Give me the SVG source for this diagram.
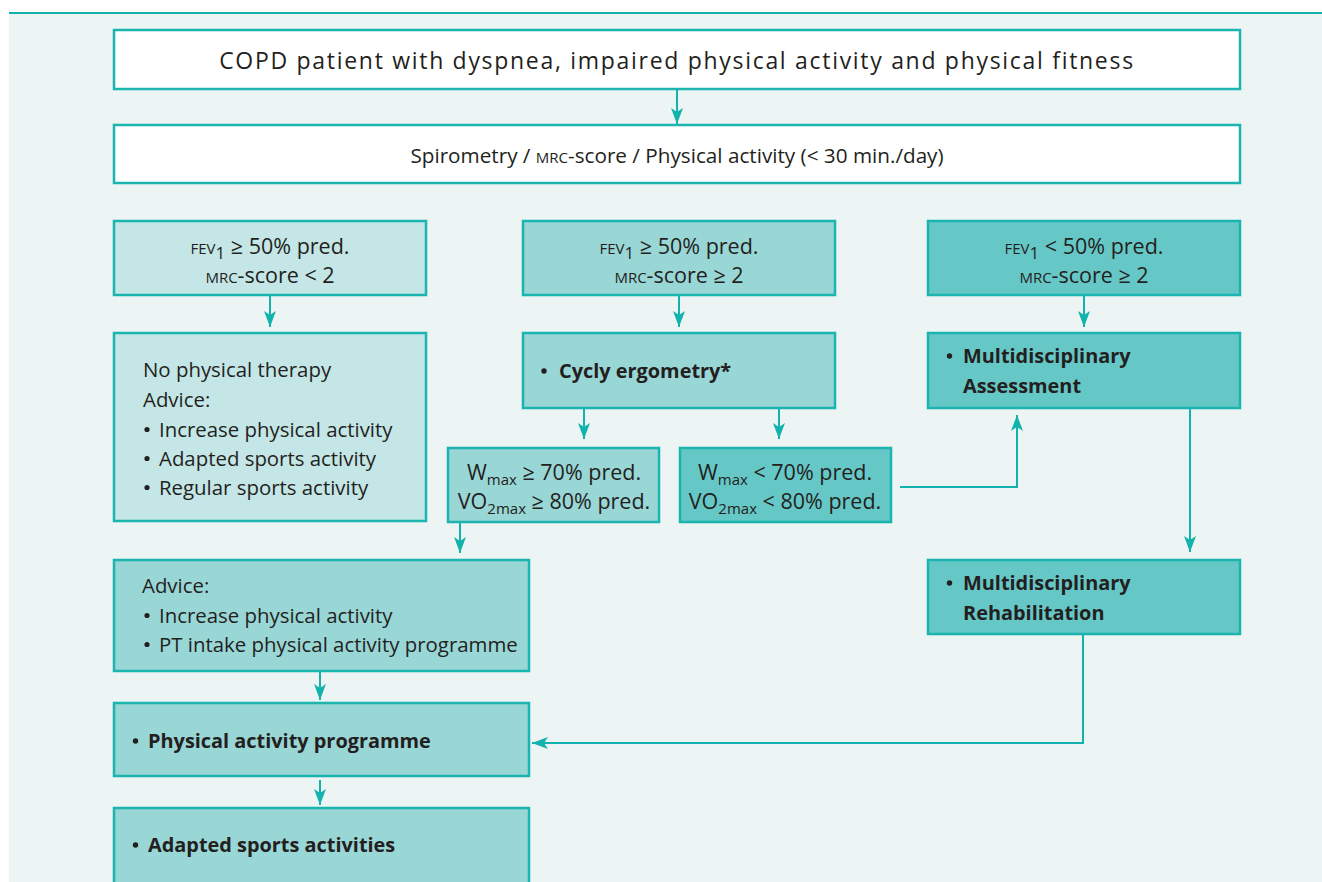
<svg xmlns="http://www.w3.org/2000/svg" width="1322" height="882" viewBox="0 0 1322 882">
<defs>
<marker id="ah" viewBox="0 0 16 12" markerWidth="16" markerHeight="12" refX="16" refY="6" orient="auto" markerUnits="userSpaceOnUse">
<path d="M0,0 L16,6 L0,12 L4,6 Z" fill="#12B2AD"/>
</marker>
<style>
.box{stroke:#1BB5B0;stroke-width:2.5}
.w{fill:#FFFFFF}
.l1{fill:#C4E6E6}
.l2{fill:#99D6D6}
.l3{fill:#66C7C7}
text{font-family:"Open Sans","DejaVu Sans",sans-serif;fill:#231F20}
.t{font-size:20.4px}
.r{font-size:21.5px}
.b{font-size:19.9px;font-weight:bold}
.sc{font-size:15px}
.c{text-anchor:middle}
.dot{fill:#231F20}
.ln{fill:none;stroke:#12B2AD;stroke-width:2}
</style>
</defs>
<rect x="0" y="0" width="1322" height="882" fill="#FFFFFF"/>
<rect x="9" y="13" width="1313" height="869" fill="#ECF5F4"/>
<line x1="9" y1="13" x2="1322" y2="13" stroke="#12B2AD" stroke-width="2"/>

<g id="connectors">
<line class="ln" x1="677" y1="90" x2="677" y2="124" marker-end="url(#ah)"/>
<line class="ln" x1="270" y1="296" x2="270" y2="327" marker-end="url(#ah)"/>
<line class="ln" x1="679" y1="296" x2="679" y2="327" marker-end="url(#ah)"/>
<line class="ln" x1="1084" y1="296" x2="1084" y2="327" marker-end="url(#ah)"/>
<line class="ln" x1="584" y1="409" x2="584" y2="439" marker-end="url(#ah)"/>
<line class="ln" x1="779" y1="409" x2="779" y2="439" marker-end="url(#ah)"/>
<polyline class="ln" points="900,487 1017,487 1017,415" marker-end="url(#ah)"/>
<line class="ln" x1="1190" y1="409" x2="1190" y2="552" marker-end="url(#ah)"/>
<line class="ln" x1="460" y1="523" x2="460" y2="553" marker-end="url(#ah)"/>
<line class="ln" x1="320" y1="672" x2="320" y2="700" marker-end="url(#ah)"/>
<line class="ln" x1="320" y1="780" x2="320" y2="805" marker-end="url(#ah)"/>
<polyline class="ln" points="1083,635 1083,743 532,743" marker-end="url(#ah)"/>
</g>

<g id="n-copd">
<rect class="box w" x="114" y="30" width="1126" height="59"/>
<text class="c" x="677" y="69" style="font-size:23px;letter-spacing:1.7px">COPD patient with dyspnea, impaired physical activity and physical fitness</text>
</g>
<g id="n-spiro">
<rect class="box w" x="114" y="125" width="1126" height="58"/>
<text class="c" x="677" y="163" style="font-size:20.7px">Spirometry / <tspan style="font-size:15px">MRC</tspan>-score / Physical activity (&lt; 30 min./day)</text>
</g>

<g id="n-a">
<rect class="box l1" x="114" y="221" width="312" height="74"/>
<text class="c r" x="270" y="254"><tspan class="sc">FEV</tspan><tspan style="font-size:17px" dy="5">1</tspan><tspan dy="-5"> ≥ 50% pred.</tspan></text>
<text class="c r" x="270" y="283"><tspan class="sc">MRC</tspan>-score &lt; 2</text>
</g>
<g id="n-b">
<rect class="box l2" x="523" y="221" width="312" height="74"/>
<text class="c r" x="679" y="254"><tspan class="sc">FEV</tspan><tspan style="font-size:17px" dy="5">1</tspan><tspan dy="-5"> ≥ 50% pred.</tspan></text>
<text class="c r" x="679" y="283"><tspan class="sc">MRC</tspan>-score ≥ 2</text>
</g>
<g id="n-c">
<rect class="box l3" x="928" y="221" width="312" height="74"/>
<text class="c r" x="1084" y="254"><tspan class="sc">FEV</tspan><tspan style="font-size:17px" dy="5">1</tspan><tspan dy="-5"> &lt; 50% pred.</tspan></text>
<text class="c r" x="1084" y="283"><tspan class="sc">MRC</tspan>-score ≥ 2</text>
</g>

<g id="n-nopt">
<rect class="box l1" x="114" y="333" width="312" height="188"/>
<text class="t" x="143" y="377">No physical therapy</text>
<text class="t" x="143" y="407">Advice:</text>
<circle class="dot" cx="147" cy="429.5" r="2.6"/><text class="t" x="159" y="437">Increase physical activity</text>
<circle class="dot" cx="147" cy="458.5" r="2.6"/><text class="t" x="159" y="466">Adapted sports activity</text>
<circle class="dot" cx="147" cy="487.5" r="2.6"/><text class="t" x="159" y="495">Regular sports activity</text>
</g>
<g id="n-cycle">
<rect class="box l2" x="523" y="333" width="312" height="75"/>
<circle class="dot" cx="544" cy="371" r="2.7"/><text class="b" x="559" y="378">Cycly ergometry*</text>
</g>
<g id="n-assess">
<rect class="box l3" x="928" y="333" width="312" height="75"/>
<circle class="dot" cx="949.5" cy="356" r="2.7"/><text class="b" x="963" y="363">Multidisciplinary</text>
<text class="b" x="963" y="393">Assessment</text>
</g>

<g id="n-w1">
<rect class="box l2" x="448" y="448" width="211" height="74"/>
<text class="c r" x="554" y="480">W<tspan class="sc" dy="5">max</tspan><tspan dy="-5"> ≥ 70% pred.</tspan></text>
<text class="c r" x="554" y="509">VO<tspan class="sc" dy="5">2max</tspan><tspan dy="-5"> ≥ 80% pred.</tspan></text>
</g>
<g id="n-w2">
<rect class="box l3" x="680" y="448" width="211" height="74"/>
<text class="c r" x="785" y="480">W<tspan class="sc" dy="5">max</tspan><tspan dy="-5"> &lt; 70% pred.</tspan></text>
<text class="c r" x="785" y="509">VO<tspan class="sc" dy="5">2max</tspan><tspan dy="-5"> &lt; 80% pred.</tspan></text>
</g>

<g id="n-rehab">
<rect class="box l3" x="928" y="560" width="312" height="74"/>
<circle class="dot" cx="949.5" cy="583" r="2.7"/><text class="b" x="963" y="590">Multidisciplinary</text>
<text class="b" x="963" y="620">Rehabilitation</text>
</g>

<g id="n-advice">
<rect class="box l2" x="114" y="560" width="415" height="111"/>
<text class="t" x="142" y="593">Advice:</text>
<circle class="dot" cx="147" cy="615.5" r="2.6"/><text class="t" x="159" y="623">Increase physical activity</text>
<circle class="dot" cx="147" cy="644.5" r="2.6"/><text class="t" x="159" y="652">PT intake physical activity programme</text>
</g>
<g id="n-pap">
<rect class="box l2" x="114" y="703" width="415" height="73"/>
<circle class="dot" cx="135.5" cy="741" r="2.7"/><text class="b" x="148" y="748">Physical activity programme</text>
</g>
<g id="n-sports">
<rect class="box l2" x="114" y="808" width="415" height="80"/>
<circle class="dot" cx="135.5" cy="845" r="2.7"/><text class="b" x="148" y="852">Adapted sports activities</text>
</g>
</svg>
